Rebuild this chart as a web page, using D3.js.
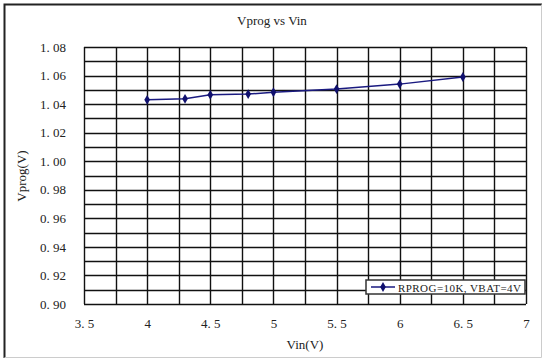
<!DOCTYPE html>
<html>
<head>
<meta charset="utf-8">
<script src="https://cdn.jsdelivr.net/npm/d3@7"></script>
<style>
  body { margin: 0; background: #fff; }
  text { font-family: 'Liberation Serif', 'DejaVu Serif', serif; fill: #222; }
</style>
</head>
<body>
<div id="chart"></div>
<script>
'use strict'

var width = 544
var height = 362

// data
var vin = [4, 4.3, 4.5, 4.8, 5, 5.5, 6, 6.5]
var vprog = [1.043, 1.0437, 1.0465, 1.047, 1.0483, 1.0505, 1.054, 1.059]
var xTicks = [3.5, 4, 4.5, 5, 5.5, 6, 6.5, 7]
var yTicks = [0.90, 0.92, 0.94, 0.96, 0.98, 1.00, 1.02, 1.04, 1.06, 1.08]
var seriesName = 'RPROG=10K, VBAT=4V'

var plot = { left: 84, top: 47, right: 526, bottom: 304 }

var svg = d3.select('#chart').append('svg')
  .attr('width', width)
  .attr('height', height)

// outer frame
svg.append('rect')
  .attr('x', 0).attr('y', 0).attr('width', width).attr('height', height)
  .attr('fill', '#fff')
svg.append('path')
  .attr('d', 'M4.5,' + (height - 4) + 'V4.5H' + (width - 2))
  .attr('fill', 'none').attr('stroke', '#222').attr('stroke-width', 2)
svg.append('path')
  .attr('d', 'M4.5,' + (height - 4.5) + 'H' + (width - 2.5) + 'V4.5')
  .attr('fill', 'none').attr('stroke', '#ccc').attr('stroke-width', 1)

var x = d3.scaleLinear().domain([3.5, 7]).range([plot.left, plot.right])
var y = d3.scaleLinear().domain([0.90, 1.08]).range([plot.bottom, plot.top])

// grid: vertical every 0.25, horizontal every 0.01
var g = svg.append('g')
g.selectAll('line.vx')
  .data(d3.range(0, 15).map(i => 3.5 + i * 0.25))
  .join('line')
  .attr('class', 'vx')
  .attr('x1', d => Math.round(x(d)) + 0.5).attr('x2', d => Math.round(x(d)) + 0.5)
  .attr('y1', plot.top).attr('y2', plot.bottom)
  .attr('stroke', '#111').attr('stroke-width', 1.4)
g.selectAll('line.hy')
  .data(d3.range(0, 19).map(i => 0.90 + i * 0.01))
  .join('line')
  .attr('class', 'hy')
  .attr('y1', d => Math.round(y(d)) + 0.5).attr('y2', d => Math.round(y(d)) + 0.5)
  .attr('x1', plot.left).attr('x2', plot.right)
  .attr('stroke', '#111').attr('stroke-width', 1.4)

// axes (labels only)
var xAxis = d3.axisBottom(x).tickValues(xTicks).tickSize(0).tickPadding(15)
  .tickFormat(d => String(d).replace('.', '. '))
svg.append('g')
  .attr('transform', 'translate(0,' + plot.bottom + ')')
  .call(xAxis)
  .call(a => a.select('.domain').remove())
  .selectAll('text')
  .attr('font-size', 13).attr('fill', '#333')

var yAxis = d3.axisLeft(y).tickValues(yTicks).tickSize(0).tickPadding(18)
  .tickFormat(d => d3.format('.2f')(d).replace('.', '. '))
svg.append('g')
  .attr('transform', 'translate(' + plot.left + ',0)')
  .call(yAxis)
  .call(a => a.select('.domain').remove())
  .selectAll('text')
  .attr('font-size', 13).attr('fill', '#333')

// title and axis titles
svg.append('text')
  .attr('x', 272).attr('y', 25)
  .attr('text-anchor', 'middle').attr('font-size', 13)
  .text('Vprog vs Vin')
svg.append('text')
  .attr('x', (plot.left + plot.right) / 2).attr('y', 349)
  .attr('text-anchor', 'middle').attr('font-size', 13)
  .text('Vin(V)')
svg.append('text')
  .attr('transform', 'translate(26,' + 176 + ') rotate(-90)')
  .attr('text-anchor', 'middle').attr('font-size', 13)
  .text('Vprog(V)')

// series
var pts = vin.map((v, i) => [v, vprog[i]])
var line = d3.line().x(d => x(d[0])).y(d => y(d[1]))
svg.append('path')
  .datum(pts)
  .attr('d', line)
  .attr('fill', 'none').attr('stroke', '#1a1a80').attr('stroke-width', 1.5)
var diamond = d3.symbol().type(d3.symbolDiamond).size(28)
svg.selectAll('path.pt')
  .data(pts)
  .join('path')
  .attr('class', 'pt')
  .attr('transform', d => 'translate(' + x(d[0]) + ',' + y(d[1]) + ')')
  .attr('d', diamond)
  .attr('fill', '#10106e')

// legend
var lg = svg.append('g').attr('transform', 'translate(366,280)')
lg.append('rect')
  .attr('width', 159).attr('height', 14)
  .attr('fill', '#fff').attr('stroke', '#333').attr('stroke-width', 1.5)
lg.append('line')
  .attr('x1', 5).attr('x2', 29).attr('y1', 7).attr('y2', 7)
  .attr('stroke', '#1a1a80').attr('stroke-width', 1.5)
lg.append('path')
  .attr('transform', 'translate(17,7)')
  .attr('d', diamond)
  .attr('fill', '#10106e')
lg.append('text')
  .attr('x', 32).attr('y', 11.5)
  .attr('font-size', 11).attr('textLength', 123)
  .text(seriesName)
</script>
</body>
</html>
